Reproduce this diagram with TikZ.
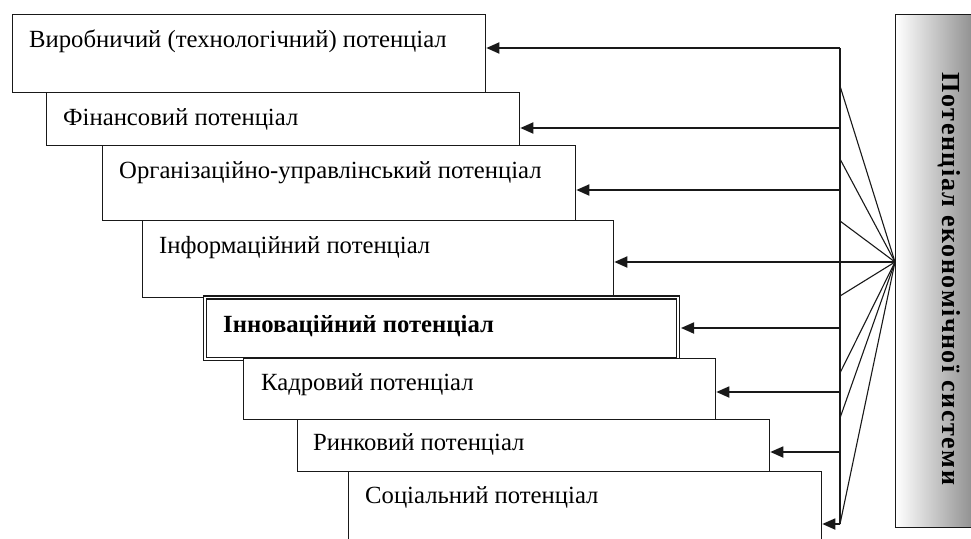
\documentclass[tikz,border=0pt]{standalone}
\usepackage{fontspec}
\setmainfont{Liberation Serif}
\usetikzlibrary{positioning, arrows.meta}

\begin{document}
\begin{tikzpicture}[x=1pt, y=-1pt, node distance=0pt]
    % Define styles
    \tikzstyle{potbox} = [rectangle, anchor=north west, inner sep=0pt, minimum width=473pt, draw=black!90, line width=1.3pt, fill=white]
    \tikzstyle{keybox} = [potbox, line width=1.5pt, double=white, double distance=1.6pt, outer sep=3pt]
    \tikzstyle{caption} = [inner sep=0pt, font=\fontsize{24.7}{28}\selectfont]
    \tikzstyle{arrow} = [draw=black!90, line width=1.8pt, -{Triangle[length=13pt, width=11pt]}]
    \tikzstyle{fan} = [draw=black!90, line width=1.1pt]

    \useasboundingbox (0,0) rectangle (971,538);

    % Boxes
    \node (prod) [potbox, minimum height=78pt] at (12,14) {};
    \node (fin) [potbox, minimum height=53pt] at (46,92) {};
    \node (org) [potbox, minimum height=75pt] at (102,145) {};
    \node (info) [potbox, minimum height=77pt, minimum width=471pt] at (142,220) {};
    \node (innov) [keybox, minimum height=61.5pt] at (202,294.5) {};
    \node (staff) [potbox, minimum height=61pt, minimum width=472pt] at (243,358) {};
    \node (market) [potbox, minimum height=52pt, minimum width=472pt] at (297,419) {};
    \node (social) [potbox, minimum height=80pt] at (348,471) {};

    % Captions
    \node (prodtext) [caption, below right=33pt and 17pt of prod.north west, anchor=base west] {Виробничий (технологічний) потенціал};
    \node (fintext) [caption, below right=33pt and 17pt of fin.north west, anchor=base west] {Фінансовий потенціал};
    \node (orgtext) [caption, below right=33pt and 17pt of org.north west, anchor=base west] {Організаційно-управлінський потенціал};
    \node (infotext) [caption, below right=33pt and 17pt of info.north west, anchor=base west] {Інформаційний потенціал};
    \node (innovtext) [caption, below right=38pt and 21pt of innov.north west, anchor=base west, font=\fontsize{24.7}{28}\selectfont\bfseries] {Інноваційний потенціал};
    \node (stafftext) [caption, below right=32pt and 18pt of staff.north west, anchor=base west] {Кадровий потенціал};
    \node (markettext) [caption, below right=31pt and 16pt of market.north west, anchor=base west] {Ринковий потенціал};
    \node (socialtext) [caption, below right=32pt and 17pt of social.north west, anchor=base west] {Соціальний потенціал};

    % Economic system
    \node (sys) [rectangle, anchor=north west, minimum width=80pt, minimum height=513pt, draw=black!90, line width=1.3pt, left color=white, right color=black!45] at (895,14) {};
    \node (systext) [rotate=-90, font=\fontsize{26}{30}\selectfont\bfseries\addfontfeature{LetterSpace=6}] at (949,279) {Потенціал економічної системи};

    % Bus and fan
    \coordinate (apex) at (895,262);
    \coordinate (top) at (840,48);
    \coordinate (bottom) at (840,524);
    \draw [fan] (top) -- (bottom);
    \foreach \y [count=\i] in {86,159,221,296,373,418,524} {
        \coordinate (f\i) at (840,\y);
        \draw [fan] (apex) -- (f\i);
    }

    % Arrows
    \foreach \name/\y in {prod/48, fin/128, org/190, innov/328, staff/392, market/452, social/524} {
        \coordinate (s-\name) at (840,\y);
        \draw [arrow] (s-\name) -- (s-\name -| \name.east);
    }
    \draw [arrow] (apex) -- (apex -| info.east);
\end{tikzpicture}
\end{document}
